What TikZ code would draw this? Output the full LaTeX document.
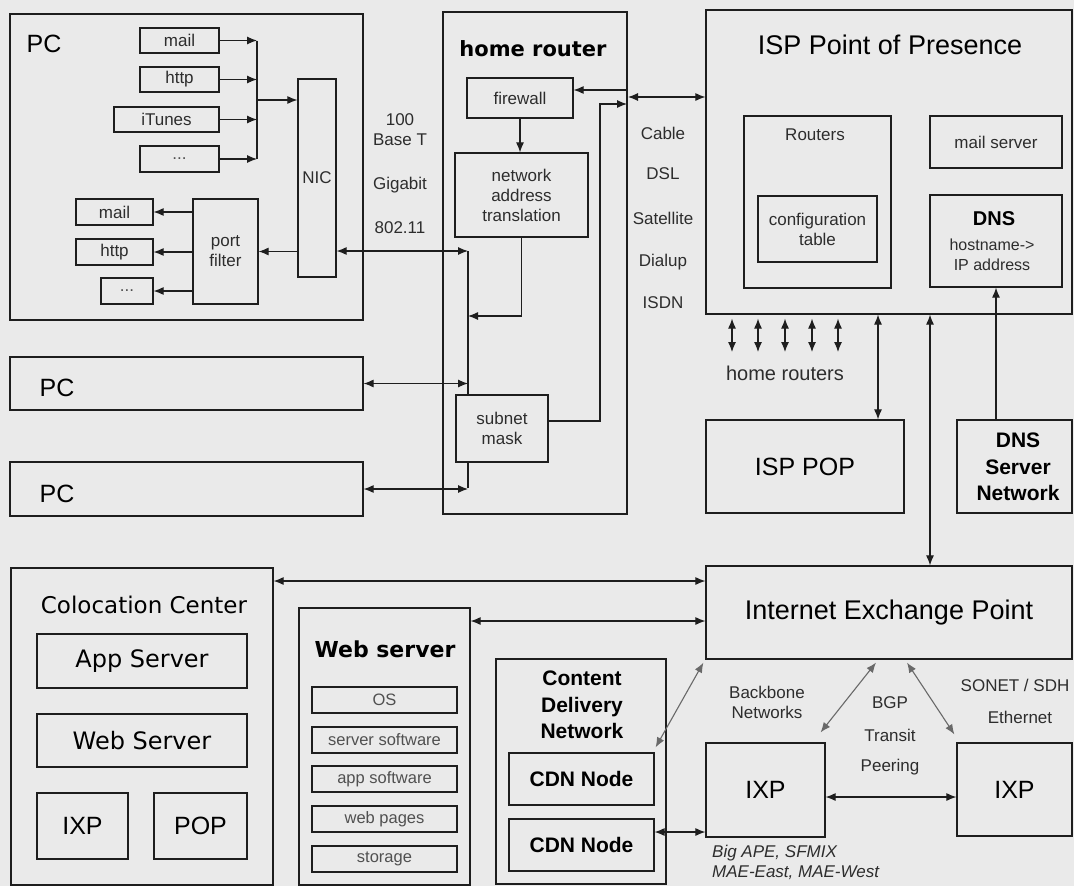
\documentclass[tikz,border=0pt]{standalone}
\usepackage{fontspec}
\setmainfont{Liberation Sans}
\newfontfamily\dvs{DejaVu Sans}
\usetikzlibrary{arrows.meta}
\definecolor{bg}{RGB}{234,234,234}
\definecolor{ln}{RGB}{30,30,30}
\definecolor{tx}{RGB}{45,45,45}
\definecolor{lt}{RGB}{80,80,80}
\definecolor{dg}{RGB}{105,105,105}
\begin{document}
\begin{tikzpicture}[x=1pt,y=-1pt,
  box/.style={draw=ln, line width=1.2pt, inner sep=0pt, align=center},
  sm/.style={font=\fontsize{17}{20}\selectfont, text=tx, inner sep=0pt, align=center},
  smx/.style={font=\fontsize{16.5}{20}\selectfont, text=lt, inner sep=0pt, align=center},
  big/.style={font=\fontsize{25}{30}\selectfont, text=black, inner sep=0pt, align=center},
  huge/.style={font=\fontsize{27}{32}\selectfont, text=black, inner sep=0pt, align=center},
  bd/.style={font=\bfseries\fontsize{21}{26.5}\selectfont, text=black, inner sep=0pt, align=center},
  vd/.style={font=\dvs\fontsize{24}{28}\selectfont, text=black, inner sep=0pt, align=center},
  tip/.tip={Latex[length=10pt,width=8pt]},
  arr/.style={draw=ln, line width=1.1pt, -tip},
  darr/.style={draw=ln, line width=1.1pt, tip-tip},
  gdarr/.style={draw=dg, line width=1.1pt, tip-tip},
  ln1/.style={draw=ln, line width=1.1pt}]
\useasboundingbox[fill=bg] (0,0) rectangle (1074,886);

% ---------- PC (top) ----------
\node[box,minimum width=353,minimum height=306] (pc1) at (186.5,167) {};
\node[big] (pc1t) at (44,44) {PC};
\node[box,sm,minimum width=79,minimum height=25] (mail1) at (179.5,40.5) {mail};
\node[box,sm,minimum width=79,minimum height=25] (http1) at (179.5,79.5) {http};
\node[box,sm,minimum width=105,minimum height=25] (itunes) at (166.5,119.5) {iTunes};
\node[box,sm,minimum width=79,minimum height=26] (dots1) at (179.5,159) {\textcolor{lt}{...}};
\node[box,sm,minimum width=38,minimum height=198] (nic) at (317,178) {NIC};
\node[box,sm,minimum width=65,minimum height=105] (pf) at (225.5,251.5) {port\\filter};
\node[box,sm,minimum width=77,minimum height=26] (mail2) at (114.5,212) {mail};
\node[box,sm,minimum width=77,minimum height=26] (http2) at (114.5,252) {http};
\node[box,sm,minimum width=52,minimum height=26] (dots2) at (127,291) {\textcolor{lt}{...}};

\coordinate (busT) at (257,40.5);
\coordinate (busB) at (257,159);
\coordinate (busM) at (257,100);
\draw[arr] (mail1.east) -- (mail1.east -| busT);
\draw[arr] (http1.east) -- (http1.east -| busT);
\draw[arr] (itunes.east) -- (itunes.east -| busT);
\draw[arr] (dots1.east) -- (dots1.east -| busT);
\draw[ln1] (busT) -- (busB);
\draw[arr] (busM) -- (busM -| nic.west);
\draw[arr] (nic.west |- pf.east) -- (pf.east);
\draw[arr] (pf.west |- mail2.east) -- (mail2.east);
\draw[arr] (pf.west |- http2.east) -- (http2.east);
\draw[arr] (pf.west |- dots2.east) -- (dots2.east);

% ---------- PCs below ----------
\node[box,minimum width=353,minimum height=53] (pc2) at (186.5,383.5) {};
\node[big] (pc2t) at (57,388) {PC};
\node[box,minimum width=353,minimum height=54] (pc3) at (186.5,489) {};
\node[big] (pc3t) at (57,494) {PC};

% ---------- link labels ----------
\node[sm] (l100) at (400,130) {100\\Base T};
\node[sm] (lgig) at (400,185) {Gigabit};
\node[sm] (l802) at (400,228) {802.11};

% ---------- home router ----------
\node[box,minimum width=184,minimum height=502] (hr) at (535,263) {};
\node[font=\dvs\bfseries\fontsize{21}{25}\selectfont, inner sep=0pt] (hrt) at (533,49) {home router};
\node[box,sm,minimum width=106,minimum height=40] (fw) at (520,98) {firewall};
\node[box,sm,minimum width=133,minimum height=84] (nat) at (521.5,195) {network\\address\\translation};
\node[box,sm,minimum width=92,minimum height=67] (snm) at (502,428.5) {subnet\\mask};

\coordinate (rb1) at (468,251);
\coordinate (rb4) at (468,488);
\coordinate (natc) at (521.5,316);
\draw[darr] (nic.east |- rb1) -- (rb1);
\draw[ln1] (rb1) -- (rb1 |- snm.north);
\draw[ln1] (rb4 |- snm.south) -- (rb4);
\draw[darr] (pc2.east) -- (pc2.east -| rb1);
\draw[darr] (pc3.east) -- (pc3.east -| rb1);
\draw[arr] (fw.south) -- (fw.south |- nat.north);
\draw[arr] (nat.south) -- (natc) -- (natc -| rb1);

\coordinate (rr1) at (627,90);
\coordinate (sn1) at (600,421);
\coordinate (sn2) at (600,104);
\coordinate (rr2) at (627,104);
\coordinate (rr3) at (628,97);
\draw[arr] (rr1) -- (rr1 -| fw.east);
\draw[arr] (sn1 -| snm.east) -- (sn1) -- (sn2) -- (rr2);

\node[sm] (lcab) at (663,133) {Cable};
\node[sm] (ldsl) at (663,174) {DSL};
\node[sm] (lsat) at (663,218) {Satellite};
\node[sm] (ldia) at (663,262) {Dialup};
\node[sm] (lisd) at (663,303) {ISDN};

% ---------- ISP ----------
\node[box,minimum width=366,minimum height=304] (isp) at (889,162) {};
\node[huge] (ispt) at (890,45) {ISP Point of Presence};
\draw[darr] (rr3) -- (rr3 -| isp.west);
\node[box,minimum width=147,minimum height=172] (rts) at (817.5,202) {};
\node[sm] (rtst) at (815,135) {Routers};
\node[box,sm,minimum width=119,minimum height=66] (cfg) at (817.5,229) {configuration\\table};
\node[box,sm,minimum width=132,minimum height=52] (mls) at (996,142) {mail server};
\node[box,minimum width=132,minimum height=92] (dns) at (996,241) {};
\node[font=\bfseries\fontsize{20}{24}\selectfont, inner sep=0pt] (dnst) at (994,219) {DNS};
\node[font=\fontsize{16}{20}\selectfont, text=tx, inner sep=0pt, align=center] (dnsx) at (992,255) {hostname-\textgreater\\IP address};

\foreach \i/\xx in {1/732,2/758,3/785,4/812,5/838}{
  \coordinate (hrs\i) at (\xx,352);
  \draw[darr] ([yshift=-4pt]isp.south -| hrs\i) -- (hrs\i);
}
\node[font=\fontsize{20}{24}\selectfont, text=tx, inner sep=0pt] (hrl) at (785,373) {home routers};

\node[box,big,minimum width=198,minimum height=93] (isppop) at (805,466.5) {ISP POP};
\node[box,minimum width=115,minimum height=93] (dnsn) at (1014.5,466.5) {};
\node[bd] (dnsnt) at (1018,467) {DNS\\Server\\Network};

\coordinate (xa) at (878,0);
\coordinate (xb) at (930,0);
\draw[darr] (isp.south -| xa) -- (isppop.north -| xa);
\draw[arr] (dnsn.north -| dns.south) -- (dns.south);

% ---------- bottom ----------
\node[box,minimum width=262,minimum height=317] (col) at (142,726.5) {};
\node[font=\dvs\fontsize{23}{27}\selectfont, inner sep=0pt] (colt) at (144,605) {Colocation Center};
\node[box,vd,minimum width=210,minimum height=54] (apps) at (142,661) {App Server};
\node[box,vd,minimum width=210,minimum height=53] (webs) at (142,740.5) {Web Server};
\node[box,big,minimum width=91,minimum height=66] (ixpc) at (82.5,826) {IXP};
\node[box,big,minimum width=93,minimum height=66] (popc) at (200.5,826) {POP};

\node[box,minimum width=171,minimum height=277] (ws) at (384.5,746.5) {};
\node[font=\dvs\bfseries\fontsize{22}{26}\selectfont, inner sep=0pt] (wst) at (385,649) {Web server};
\node[box,smx,minimum width=145,minimum height=26] (os) at (384.5,700) {OS};
\node[box,smx,minimum width=145,minimum height=26] (ssw) at (384.5,740) {server software};
\node[box,smx,minimum width=145,minimum height=26] (asw) at (384.5,779) {app software};
\node[box,smx,minimum width=145,minimum height=26] (wpg) at (384.5,819) {web pages};
\node[box,smx,minimum width=145,minimum height=26] (stg) at (384.5,859) {storage};

\node[box,minimum width=366,minimum height=93] (ixm) at (889,612.5) {};
\node[huge] (ixmt) at (889,613) {Internet Exchange Point};
\draw[darr] (isp.south -| xb) -- (ixm.north -| xb);

\coordinate (ya) at (0,581);
\coordinate (yb) at (0,621);
\coordinate (yc) at (0,832);
\coordinate (yd) at (0,797);
\draw[darr] (col.east |- ya) -- (ixm.west |- ya);
\draw[darr] (ws.east |- yb) -- (ixm.west |- yb);

\node[box,minimum width=170,minimum height=225] (cdn) at (581,771.5) {};
\node[bd] (cdnt) at (582,705) {Content\\Delivery\\Network};
\node[box,bd,minimum width=145,minimum height=52] (cdn1) at (581.5,779) {CDN Node};
\node[box,bd,minimum width=145,minimum height=52] (cdn2) at (581.5,845) {CDN Node};

\node[box,big,minimum width=119,minimum height=94] (ixp1) at (765.5,790) {IXP};
\node[box,big,minimum width=115,minimum height=93] (ixp2) at (1014.5,789.5) {IXP};

\draw[gdarr] ([shift={(1,-5)}]cdn1.north east) -- ([shift={(-2,3)}]ixm.south west);
\draw[gdarr] ([shift={(-5,-10)}]ixp1.north east) -- ([shift={(-13,3)}]ixm.south);
\draw[gdarr] ([shift={(18,3)}]ixm.south) -- ([shift={(-2,-8)}]ixp2.north west);
\draw[darr] (cdn2.east |- yc) -- (ixp1.west |- yc);
\draw[darr] (ixp1.east |- yd) -- (ixp2.west |- yd);

\node[sm] (bbn) at (767,702.5) {Backbone\\Networks};
\node[sm] (bgp) at (890,703) {BGP};
\node[sm] (trn) at (890,735) {Transit};
\node[sm] (per) at (890,767) {Peering};
\node[sm] (son) at (1015,685) {SONET / SDH};
\node[sm] (eth) at (1020,717) {Ethernet};
\node[sm, font=\itshape\fontsize{17}{20}\selectfont, anchor=west] (big1) at (712,853) {Big APE, SFMIX};
\node[sm, font=\itshape\fontsize{17}{20}\selectfont, anchor=west] (big2) at (712,873) {MAE-East, MAE-West};
\end{tikzpicture}
\end{document}
